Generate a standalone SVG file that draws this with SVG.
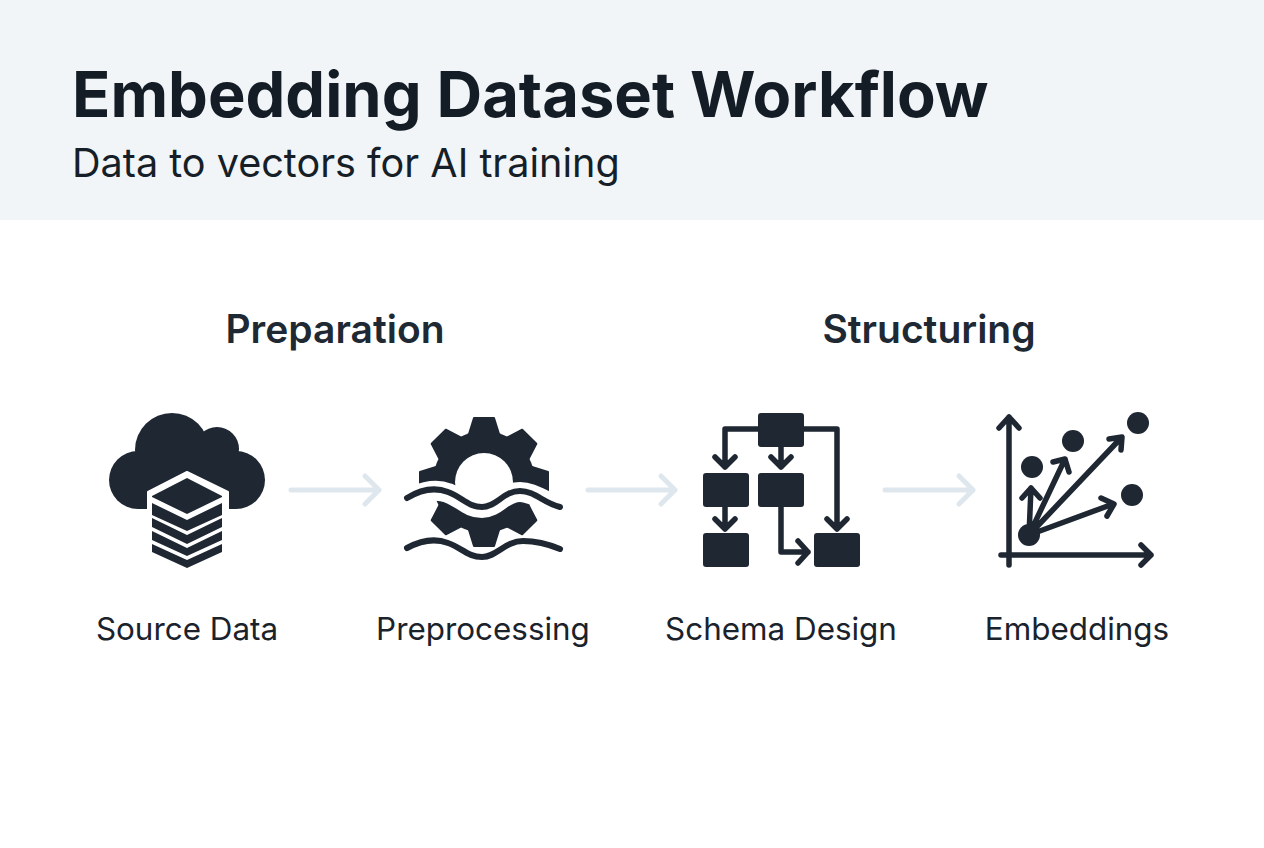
<svg xmlns="http://www.w3.org/2000/svg" xmlns:xlink="http://www.w3.org/1999/xlink" width="1264" height="848" viewBox="0 0 1264 848">
<style>
text{font-family:Inter,"Liberation Sans",sans-serif;fill:#1a222c}
.title{font-size:63.2px;font-weight:700;fill:#141c26}
.sub{font-size:39.6px;font-weight:400;fill:#161e28}
.sec{font-size:39px;font-weight:600;text-anchor:middle;fill:#1f2933}
.lab{font-size:31.4px;font-weight:400;text-anchor:middle}
.dark{fill:#1e2732}
.ln{fill:none;stroke:#1e2732;stroke-width:5.5;stroke-linecap:round;stroke-linejoin:round}
.wave{fill:none;stroke:#1e2732;stroke-width:6;stroke-linecap:round;stroke-linejoin:round}
.flow{fill:none;stroke:#dfe7ee;stroke-width:5;stroke-linecap:round;stroke-linejoin:round}
</style>
<defs>
<polygon id="tooth" points="-15,-48 -10,-64 10,-64 15,-48" fill="#1e2732" stroke="#1e2732" stroke-width="2" stroke-linejoin="round"/>
</defs>
<rect id="header" x="0" y="0" width="1264" height="220" fill="#f1f5f7"/>
<text class="title" x="72" y="117">Embedding Dataset Workflow</text>
<text class="sub" x="72" y="177">Data to vectors for AI training</text>
<text class="sec" x="335" y="343">Preparation</text>
<text class="sec" x="929" y="343">Structuring</text>
<g id="connectors">
<path class="flow" d="M291 490H379M365 476L379 490L365 504"/>
<path class="flow" d="M588 490H675M661 476L675 490L661 504"/>
<path class="flow" d="M885 490H973M959 476L973 490L959 504"/>
</g>
<g id="source-data">
<g class="dark">
<circle cx="138" cy="480" r="29"/><circle cx="172" cy="450" r="37"/><circle cx="217" cy="449" r="22"/><circle cx="236" cy="480" r="29"/>
<rect x="138" y="450" width="98" height="59"/>
</g>
<polygon points="187,472 228,492 228,520 148,520 148,492" fill="#fff" stroke="#fff" stroke-width="2" stroke-linejoin="round"/>
<polygon class="dark" points="187,478 222,496 222,497 187,514 152,497 152,496"/>
<polygon class="dark" points="152,503 187,520 222,503 222,515 187,531 152,515"/>
<polygon class="dark" points="152,518 187,535 222,518 222,527 187,544 152,527"/>
<polygon class="dark" points="152,531 187,548 222,531 222,540 187,556 152,540"/>
<polygon class="dark" points="152,544 187,560 222,544 222,552 187,568 152,552"/>
<text class="lab" x="187" y="640">Source Data</text>
</g>
<g id="preprocessing">
<circle class="dark" cx="484" cy="482" r="51"/>
<g transform="translate(484 482)">
<use xlink:href="#tooth" href="#tooth"/>
<use xlink:href="#tooth" href="#tooth" transform="rotate(45)"/>
<use xlink:href="#tooth" href="#tooth" transform="rotate(90)"/>
<use xlink:href="#tooth" href="#tooth" transform="rotate(135)"/>
<use xlink:href="#tooth" href="#tooth" transform="rotate(180)"/>
<use xlink:href="#tooth" href="#tooth" transform="rotate(225)"/>
<use xlink:href="#tooth" href="#tooth" transform="rotate(270)"/>
<use xlink:href="#tooth" href="#tooth" transform="rotate(315)"/>
</g>
<circle cx="484" cy="482" r="29" fill="#fff"/>
<path fill="none" stroke="#fff" stroke-width="20" d="M392 506C420 491 435 488 448 493C462 498 468 508 482 508C497 508 503 492 520 492C535 492 546 504 575 512"/>
<path class="wave" d="M407 498C420 490 435 487 448 492C462 497 468 507 482 507C497 507 503 491 520 491C535 491 543 503 560 507"/>
<path class="wave" d="M407 548C420 541 435 538 448 543C462 548 468 557 482 557C497 557 505 541 523 541C538 541 548 544 560 549"/>
<text class="lab" x="483" y="640">Preprocessing</text>
</g>
<g id="schema-design">
<path class="ln" d="M758 429H725V467M715 457L725 467L735 457M803 429H837V529M827 519L837 529L847 519M781 447V467M771 457L781 467L791 457M725 507V529M715 519L725 529L735 519M781 507V552H808M798 541L808 552L798 563"/>
<rect class="dark" x="758" y="413" width="46" height="34" rx="3"/>
<rect class="dark" x="703" y="473" width="46" height="34" rx="3"/>
<rect class="dark" x="758" y="473" width="46" height="34" rx="3"/>
<rect class="dark" x="703" y="533" width="46" height="34" rx="3"/>
<rect class="dark" x="814" y="533" width="46" height="34" rx="3"/>
<text class="lab" x="781" y="640">Schema Design</text>
</g>
<g id="embeddings">
<path class="ln" d="M1009 565V417M999 428L1009 417L1019 428M1001 555H1151M1141 545L1151 555L1141 565"/>
<path class="ln" d="M1029 535L1031 488M1022 498L1031 488L1040 498M1029 535L1065 459M1053 462L1065 459L1069 472M1029 535L1121 438M1109 439L1122 437L1121 450M1029 535L1113 504M1101 498L1114 504L1107 516"/>
<circle class="dark" cx="1029" cy="535" r="11"/>
<circle class="dark" cx="1138" cy="423" r="11"/>
<circle class="dark" cx="1073" cy="441" r="11"/>
<circle class="dark" cx="1032" cy="467" r="11"/>
<circle class="dark" cx="1132" cy="495" r="11"/>
<text class="lab" x="1077" y="640">Embeddings</text>
</g>
</svg>
